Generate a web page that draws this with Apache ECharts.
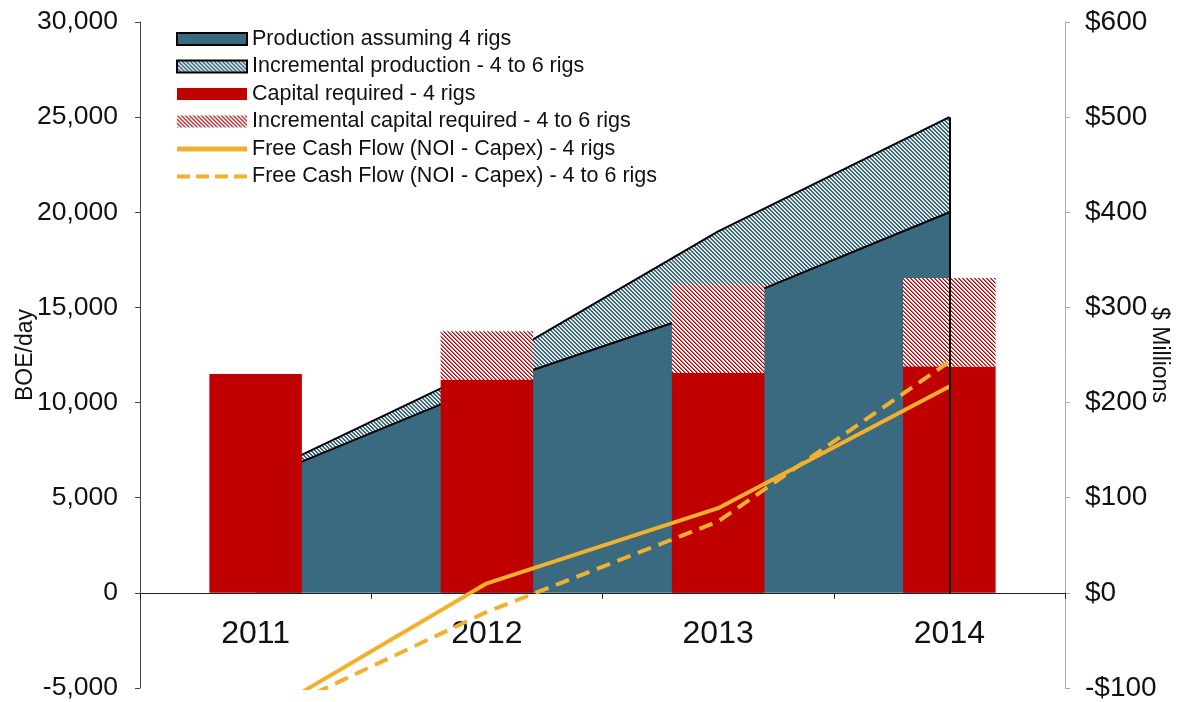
<!DOCTYPE html>
<html>
<head>
<meta charset="utf-8">
<script src="https://cdn.jsdelivr.net/npm/echarts@6/dist/echarts.min.js"></script>
<style>
html,body{margin:0;padding:0;background:#fff;}
#chart{width:1178px;height:702px;}
</style>
</head>
<body>
<div id="chart"></div>
<script>
// ---- data ----
const categories = ['2011', '2012', '2013', '2014'];
const production4 = [5900, 10900, 15000, 20000];        // BOE/day
const productionIncr = [200, 1000, 4000, 5000];         // BOE/day (4 -> 6 rigs)
const capital4 = [230, 224, 231, 238];                   // $ millions
const capitalIncr = [0, 51, 93, 93];                     // $ millions
const fcf4 = [-133, 10, 89, 217];                        // $ millions
const fcf6 = [-135, -20, 75, 243];                       // $ millions
const leftTicks = [-5000, 0, 5000, 10000, 15000, 20000, 25000, 30000];
const rightTicks = [-100, 0, 100, 200, 300, 400, 500, 600];

const names = [
  'Production assuming 4 rigs',
  'Incremental production - 4 to 6 rigs',
  'Capital required - 4 rigs',
  'Incremental capital required - 4 to 6 rigs',
  'Free Cash Flow (NOI - Capex) - 4 rigs',
  'Free Cash Flow (NOI - Capex) - 4 to 6 rigs'
];

const BLUE = '#3a6a80', RED = '#c00000', ORANGE = '#f3b02e';
const FONT = '"Liberation Sans", Arial, sans-serif';

// crisp "\" diagonal stripes, pixel by pixel
function hatch(colors) {
  const n = colors.length;
  const c = document.createElement('canvas');
  c.width = n; c.height = n;
  const ctx = c.getContext('2d');
  for (let y = 0; y < n; y++) {
    for (let x = 0; x < n; x++) {
      ctx.fillStyle = colors[((x - y) % n + n) % n];
      ctx.fillRect(x, y, 1, 1);
    }
  }
  return c;
}
const bluePattern = { image: hatch([BLUE, BLUE, '#ffffff', '#c9d6dc']), repeat: 'repeat' };
const redPattern = { image: hatch([RED, '#e06060', '#ffffff', '#ffffff']), repeat: 'repeat' };

const lastIdx = categories.length - 1;
const totalLast = production4[lastIdx] + productionIncr[lastIdx];

const GRID = { left: 140, right: 113, top: 22, bottom: 14 };
const H = 702;
const gridH = H - GRID.top - GRID.bottom;
const yMin = leftTicks[0], yMax = leftTicks[leftTicks.length - 1];
const zeroOffset = -gridH * (0 - yMin) / (yMax - yMin);

const solidIcon = 'path://M0,0 L0.01,0 L0,0 Z M0,3.5 L70,3.5 L70,8.5 L0,8.5 Z M0,12 L0.01,12 L0,12 Z';
const dashIcon = 'path://M0,0 L0.01,0 L0,0 Z M0,4 L13,4 L13,8 L0,8 Z M19,4 L32,4 L32,8 L19,8 Z M38,4 L51,4 L51,8 L38,8 Z M57,4 L70,4 L70,8 L57,8 Z M0,12 L0.01,12 L0,12 Z';

const chart = echarts.init(document.getElementById('chart'), null, { renderer: 'canvas' });
chart.setOption({
  animation: false,
  textStyle: { fontFamily: FONT },
  grid: Object.assign({ containLabel: false, outerBoundsMode: 'none' }, GRID),
  legend: {
    orient: 'vertical', left: 171, top: 23,
    itemWidth: 70, itemHeight: 12, itemGap: 5.5,
    selectedMode: false,
    textStyle: { fontSize: 21.5, color: '#111', fontFamily: FONT },
    data: [
      { name: names[0], icon: 'rect', itemStyle: { color: BLUE, borderColor: '#000', borderWidth: 2 } },
      { name: names[1], icon: 'rect', itemStyle: { color: bluePattern, borderColor: '#000', borderWidth: 2 } },
      { name: names[2], icon: 'rect', itemStyle: { color: RED, borderWidth: 0 } },
      { name: names[3], icon: 'rect', itemStyle: { color: redPattern, borderWidth: 0 } },
      { name: names[4], icon: solidIcon, itemStyle: { color: ORANGE, borderWidth: 0 } },
      { name: names[5], icon: dashIcon, itemStyle: { color: ORANGE, borderWidth: 0 } }
    ]
  },
  xAxis: {
    type: 'category', data: categories, boundaryGap: true,
    offset: zeroOffset,
    axisLine: { onZero: false, lineStyle: { color: '#222', width: 1 } },
    axisTick: { show: true, length: 6, lineStyle: { color: '#222' } },
    axisLabel: { fontSize: 32, color: '#111', margin: 25, fontFamily: FONT },
    splitLine: { show: false }
  },
  yAxis: [
    {
      type: 'value', min: yMin, max: yMax, interval: 5000,
      position: 'left',
      name: 'BOE/day', nameLocation: 'middle', nameGap: 103, nameRotate: 90,
      nameMoveOverlap: false,
      nameTextStyle: { fontSize: 23, color: '#111', fontFamily: FONT },
      axisLine: { show: true, lineStyle: { color: '#444', width: 1 } },
      axisTick: { show: true, length: 5, lineStyle: { color: '#444' } },
      axisLabel: {
        fontSize: 26.5, color: '#111', margin: 22, fontFamily: FONT,
        formatter: v => v.toLocaleString('en-US')
      },
      splitLine: { show: false }
    },
    {
      type: 'value', min: rightTicks[0], max: rightTicks[rightTicks.length - 1], interval: 100,
      position: 'right',
      name: '$ Millions', nameLocation: 'middle', nameGap: 83, nameRotate: -90,
      nameMoveOverlap: false,
      nameTextStyle: { fontSize: 23, color: '#111', fontFamily: FONT },
      axisLine: { show: true, lineStyle: { color: '#aaa', width: 1 } },
      axisTick: { show: true, length: 5, lineStyle: { color: '#aaa' } },
      axisLabel: {
        fontSize: 28, color: '#111', margin: 20, fontFamily: FONT,
        formatter: v => (v < 0 ? '-$' + Math.abs(v) : '$' + v)
      },
      splitLine: { show: false }
    }
  ],
  series: [
    {
      name: names[0], type: 'line', stack: 'prod', yAxisIndex: 0, z: 1,
      data: production4, symbol: 'none', smooth: false,
      lineStyle: { color: '#000', width: 2 },
      itemStyle: { color: BLUE },
      areaStyle: { color: BLUE, opacity: 1 }
    },
    {
      name: names[1], type: 'line', stack: 'prod', yAxisIndex: 0, z: 1,
      data: productionIncr, symbol: 'none', smooth: false,
      lineStyle: { color: '#000', width: 2 },
      itemStyle: { color: BLUE },
      areaStyle: { color: bluePattern, opacity: 1 },
      markLine: {
        silent: true, symbol: ['none', 'none'], animation: false,
        label: { show: false },
        lineStyle: { color: '#000', width: 2, type: 'solid' },
        data: [[{ coord: [categories[lastIdx], 0] }, { coord: [categories[lastIdx], totalLast] }]]
      }
    },
    {
      name: names[2], type: 'bar', stack: 'cap', yAxisIndex: 1, z: 2,
      data: capital4, barWidth: '40%',
      itemStyle: { color: RED }
    },
    {
      name: names[3], type: 'bar', stack: 'cap', yAxisIndex: 1, z: 2,
      data: capitalIncr, barWidth: '40%',
      itemStyle: { color: redPattern }
    },
    {
      name: names[4], type: 'line', yAxisIndex: 1, z: 3,
      data: fcf4, symbol: 'none', clip: true,
      itemStyle: { color: ORANGE },
      lineStyle: { color: ORANGE, width: 4 }
    },
    {
      name: names[5], type: 'line', yAxisIndex: 1, z: 3,
      data: fcf6, symbol: 'none', clip: true,
      itemStyle: { color: ORANGE },
      lineStyle: { color: ORANGE, width: 4, type: [14, 8] }
    }
  ]
});
</script>
</body>
</html>
